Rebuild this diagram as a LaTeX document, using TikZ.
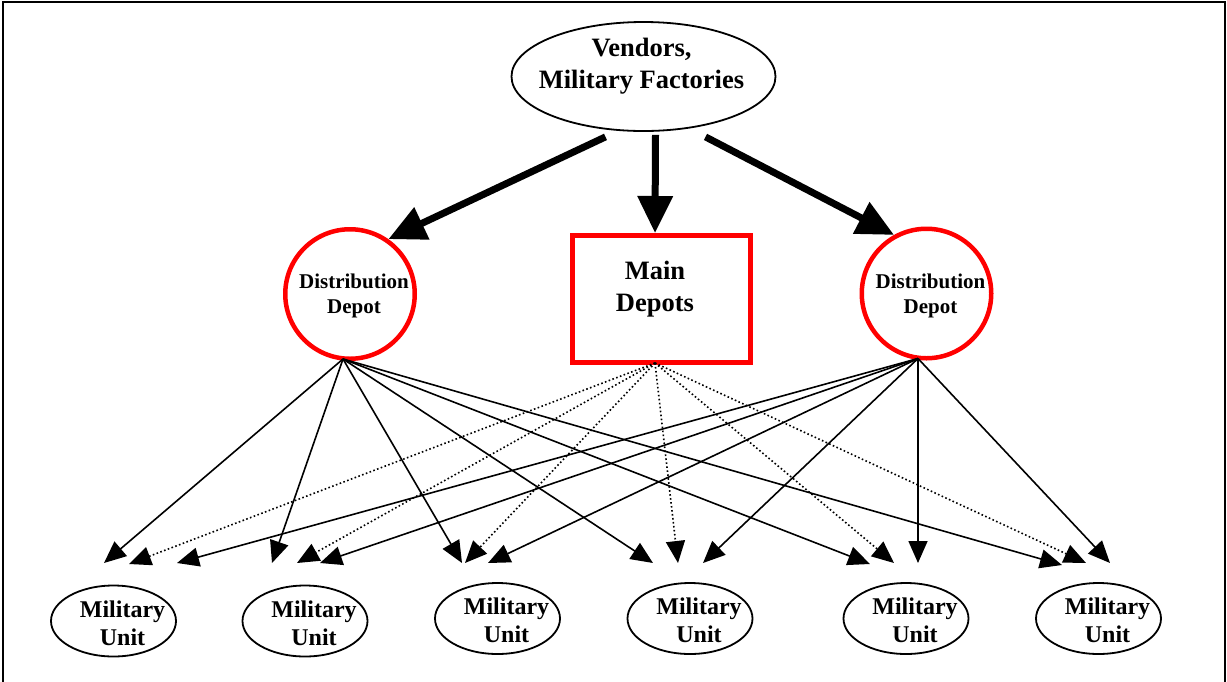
\documentclass[tikz,border=0pt]{standalone}
\usepackage{fontspec}
\setmainfont{Liberation Serif}
\usetikzlibrary{shapes.geometric,arrows.meta}
\definecolor{depotred}{RGB}{255,0,0}
\begin{document}
\begin{tikzpicture}[x=1pt,y=-1pt,
  txt/.style={align=center, inner sep=0pt},
  topnode/.style={ellipse, draw, line width=1.8pt, minimum width=264pt, minimum height=109pt, inner sep=0pt,
    label={[txt, font=\fontsize{26.5}{32}\selectfont\bfseries, xshift=-2pt, yshift=10pt]center:{Vendors,\\Military Factories}}},
  ddnode/.style={circle, draw=depotred, line width=4.5pt, minimum size=129.5pt, inner sep=0pt,
    label={[txt, font=\fontsize{21}{25}\selectfont\bfseries, xshift=4pt, yshift=-2pt]center:{Distribution\\Depot}}},
  mdnode/.style={rectangle, draw=depotred, line width=5pt, minimum width=178pt, minimum height=127pt, inner sep=0pt,
    label={[txt, font=\fontsize{26.5}{32}\selectfont\bfseries, xshift=-6.5pt, yshift=10pt]center:{Main\\Depots}}},
  unitnode/.style={ellipse, draw, line width=1.8pt, minimum width=125pt, minimum height=71pt, inner sep=0pt,
    label={[txt, font=\fontsize{24}{28}\selectfont\bfseries, xshift=9pt, yshift=-2pt]center:{Military\\Unit}}},
  bigarrow/.style={line width=7pt, -{Triangle[length=37pt, width=34pt]}},
  fanline/.style={line width=1.6pt, -{Triangle[length=22pt, width=19pt]}},
  dotline/.style={fanline, dash pattern=on 1.6pt off 2.4pt},
  frame/.style={line width=2pt}
]
\useasboundingbox (0,0) rectangle (1227,681);
\draw[frame] (3,690) -- (3,1.5) -- (1224.5,1.5) -- (1224.5,690);

% nodes
\node[topnode] (top) at (643.5,76.5) {};
\node[ddnode] (dd1) at (350,294) {};
\node[ddnode] (dd2) at (926.5,293.5) {};
\node[mdnode] (md) at (661.5,299) {};

\node[unitnode] (u1) at (113.5,621) {};
\node[unitnode] (u2) at (305,621) {};
\node[unitnode] (u3) at (497.5,618.5) {};
\node[unitnode] (u4) at (690,618.5) {};
\node[unitnode] (u5) at (906,618.5) {};
\node[unitnode] (u6) at (1098.5,618.5) {};

% top arrows
\draw[bigarrow] ([xshift=-38pt, yshift=-5pt]top.south) -- (dd1.55);
\draw[bigarrow] ([xshift=12pt, yshift=-3pt]top.south) -- ([xshift=-6.5pt]md.north);
\draw[bigarrow] ([xshift=62pt, yshift=-5pt]top.south) -- (dd2.119);

% arrow tip coordinates above the units
\coordinate (u1L) at (104,563);  \coordinate (u1M) at (129,564);  \coordinate (u1R) at (177,563);
\coordinate (u2L) at (272,563);  \coordinate (u2M) at (297,563);  \coordinate (u2R) at (320,563);
\coordinate (u3L) at (462,563);  \coordinate (u3M) at (465,563);  \coordinate (u3R) at (488,563);
\coordinate (u4L) at (653,563);  \coordinate (u4M) at (678,563);  \coordinate (u4R) at (703,563);
\coordinate (u5L) at (870,564);  \coordinate (u5M) at (894,563);  \coordinate (u5R) at (918,563);
\coordinate (u6L) at (1062,565); \coordinate (u6M) at (1086,563); \coordinate (u6R) at (1110,563);

% fans from left distribution depot
\foreach \u in {u1L,u2L,u3L,u4L,u5L,u6L}
  \draw[fanline] ([xshift=-7pt, yshift=2pt]dd1.south) -- (\u);
% fans from main depots (dotted)
\foreach \u in {u1M,u2M,u3M,u4M,u5M,u6M}
  \draw[dotline] ([xshift=-6.5pt, yshift=2pt]md.south) -- (\u);
% fans from right distribution depot
\foreach \u in {u1R,u2R,u3R,u4R,u5R,u6R}
  \draw[fanline] ([xshift=-8.5pt, yshift=2pt]dd2.south) -- (\u);
\end{tikzpicture}
\end{document}
